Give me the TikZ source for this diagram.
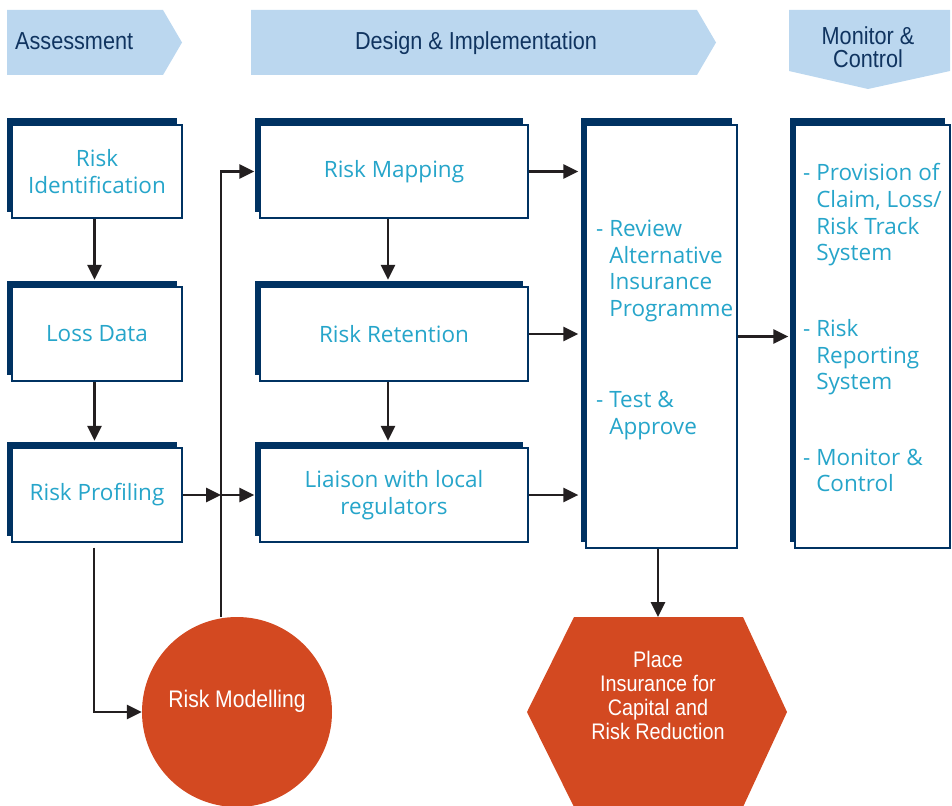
\documentclass[tikz,border=0pt]{standalone}
\usepackage{fontspec}
\setmainfont{Open Sans}
\newfontfamily\condfont[FakeStretch=0.88]{Liberation Sans}
\usetikzlibrary{arrows.meta,shadows,calc}

\definecolor{navy}{RGB}{0,50,98}
\definecolor{headblue}{RGB}{187,215,239}
\definecolor{headtext}{RGB}{16,52,96}
\definecolor{boxtext}{RGB}{38,165,202}
\definecolor{flame}{RGB}{211,73,33}
\definecolor{ink}{RGB}{35,31,32}

\newcommand{\hangpad}{\hphantom{-\ }}

\begin{document}
\begin{tikzpicture}[x=1pt,y=-1pt,
  panel/.style={draw=navy, line width=1.2pt, fill=white, inner sep=0pt,
    general shadow={fill=navy, shadow xshift=-5pt, shadow yshift=6.5pt},
    text=boxtext, align=center, font=\fontsize{22.5}{26.6}\selectfont},
  note/.style={anchor=north west, inner sep=0pt, align=left, text=boxtext,
    font=\fontsize{22.5}{26.6}\selectfont},
  flow/.style={draw=ink, line width=2.7pt, -{Triangle[length=15pt,width=14pt]}},
  banner/.style={fill=headblue},
  bannertext/.style={text=headtext, inner sep=0pt,
    font=\condfont\fontsize{24.6}{23}\selectfont},
  flametext/.style={text=white, inner sep=0pt, align=center}
]
\useasboundingbox (0,0) rectangle (952,805);

% phase banners
\fill[banner] (7,10) -- (163,10) -- (182,42.5) -- (163,75) -- (7,75) -- cycle;
\fill[banner] (251,10) -- (697,10) -- (716,42.5) -- (697,75) -- (251,75) -- cycle;
\fill[banner] (789,10) -- (950,10) -- (950,71) -- (868,89) -- (789,71) -- cycle;
\node[bannertext, anchor=west] (assess) at (15,41) {Assessment};
\node[bannertext, anchor=base] (design) at (476,50) {Design \& Implementation};
\node[bannertext, anchor=north, align=center] (control) at (868,26.4) {Monitor \&\\Control};

% assessment column
\node[panel, minimum width=170pt, minimum height=93pt] (riskid) at (97,171.5) {Risk\\Identification};
\node[panel, minimum width=170pt, minimum height=94pt] (lossdata) at (97,334) {Loss Data};
\node[panel, minimum width=170pt, minimum height=94pt] (profiling) at (97,495) {Risk Profiling};

% design column
\node[panel, minimum width=268pt, minimum height=93pt] (mapping) at (394,171.5) {Risk Mapping};
\node[panel, minimum width=268pt, minimum height=94pt] (retention) at (394,334) {Risk Retention};
\node[panel, minimum width=268pt, minimum height=94pt] (liaison) at (394,495) {Liaison with local\\regulators};

% tall boxes
\node[panel, minimum width=151pt, minimum height=423pt] (review) at (661.5,336.5) {};
\node[panel, minimum width=155pt, minimum height=423pt] (monitor) at (872.5,336.5) {};
\node[note] (revnote) at (596,220) {- Review\\\hangpad Alternative\\\hangpad Insurance\\\hangpad Programme};
\node[note] (testnote) at (596,391) {- Test \&\\\hangpad Approve};
\node[note] (provnote) at (803,163.5) {- Provision of\\\hangpad Claim, Loss/\\\hangpad Risk Track\\\hangpad System};
\node[note] (repnote) at (803,319.5) {- Risk\\\hangpad Reporting\\\hangpad System};
\node[note] (monnote) at (803,448.5) {- Monitor \&\\\hangpad Control};

% orange outcomes
\node[circle, fill=flame, minimum size=190pt, inner sep=0pt] (modelling) at (237,712) {};
\node[flametext, anchor=base, font=\condfont\fontsize{24}{28}\selectfont] (modlabel) at (237,707) {Risk Modelling};
\fill[flame] (574,617) -- (743,617) -- (787,712) -- (743,807) -- (574,807) -- (527,712) -- cycle;
\coordinate (hextop) at (658,617);
\node[flametext, anchor=north, font=\condfont\fontsize{22.5}{24.2}\selectfont] (place) at (658,650.5)
  {Place\\Insurance for\\Capital and\\Risk Reduction};

% connectors
\coordinate (reviewedge) at ([xshift=-7pt]review.west);
\coordinate (monitoredge) at ([xshift=-6pt]monitor.west);
\coordinate (riser) at ([xshift=-16pt]modelling.north);
\coordinate (junction) at (profiling.east -| riser);

\draw[flow] ([xshift=-2.5pt]riskid.south) -- ([xshift=-2.5pt,yshift=6.5pt]lossdata.north);
\draw[flow] ([xshift=-2.5pt]lossdata.south) -- ([xshift=-2.5pt,yshift=6.5pt]profiling.north);
\draw[flow] ([xshift=-6pt]mapping.south) -- ([xshift=-6pt,yshift=6.5pt]retention.north);
\draw[flow] ([xshift=-6pt]retention.south) -- ([xshift=-6pt,yshift=6.5pt]liaison.north);
\draw[flow] (mapping.east) -- (mapping.east -| reviewedge);
\draw[flow] (retention.east) -- (retention.east -| reviewedge);
\draw[flow] (liaison.east) -- (liaison.east -| reviewedge);
\draw[flow] (review.east) -- (review.east -| monitoredge);
\draw[flow] ([xshift=-3.5pt]review.south) -- (hextop);
\draw[flow] (profiling.east) -- (junction);
\draw[flow] (junction) -- ([xshift=-5pt]liaison.west);
\draw[flow] (riser) |- ([xshift=-5pt]mapping.west);
\draw[flow] ([xshift=-3pt,yshift=-5pt]profiling.south) |- (modelling.west);
\end{tikzpicture}
\end{document}
